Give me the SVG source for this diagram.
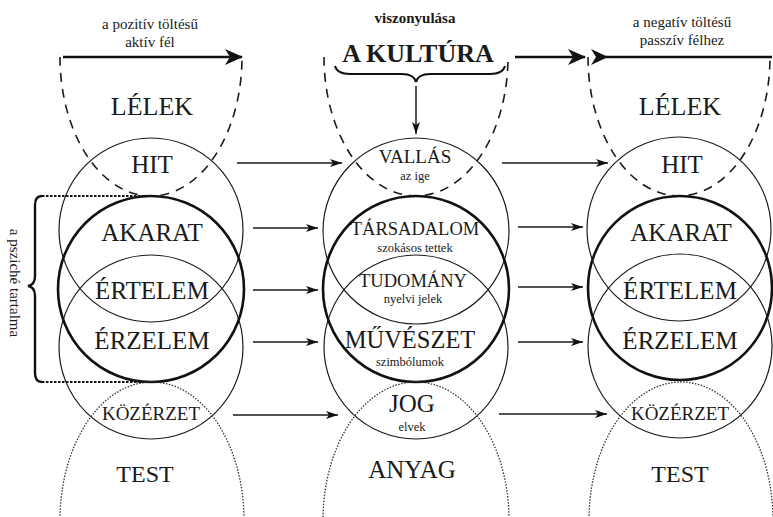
<svg xmlns="http://www.w3.org/2000/svg" width="773" height="517" viewBox="0 0 773 517">
  <style>
    text { font-family: "Liberation Serif", "Times New Roman", serif; fill: #1a1a1a; text-anchor: middle; }
    .big { font-size: 25px; }
    .mid { font-size: 18.5px; }
    .sm { font-size: 12.5px; }
    .cap { font-size: 15px; }
    .thin { fill: none; stroke: #1a1a1a; stroke-width: 1.2; }
    .thick { fill: none; stroke: #111; stroke-width: 2.6; }
    .dash { fill: none; stroke: #1a1a1a; stroke-width: 1.6; stroke-dasharray: 9 7; }
    .dot { fill: none; stroke: #333; stroke-width: 1.3; stroke-dasharray: 1.5 1.5; }
    .conn { fill: none; stroke: #1a1a1a; stroke-width: 1.5; }
    .heavy { fill: none; stroke: #111; stroke-width: 2.6; }
    .bracket { fill: none; stroke: #111; stroke-width: 2.2; stroke-dasharray: 2.5 1.5; }
  </style>
  <defs>
    <marker id="arr" viewBox="0 0 12 8" refX="12" refY="4" markerWidth="12" markerHeight="8" markerUnits="userSpaceOnUse" orient="auto">
      <path d="M0,0 L12,4 L0,8 L3,4 z" fill="#111"/>
    </marker>
    <marker id="arrBig" viewBox="0 0 18 16" refX="17" refY="8" markerWidth="18" markerHeight="16" markerUnits="userSpaceOnUse" orient="auto">
      <path d="M0,0 L18,8 L0,16 L5,8 z" fill="#111"/>
    </marker>
  </defs>

  <rect width="773" height="517" fill="#ffffff"/>

  <!-- left column: the positive, active side -->
  <g id="col-left">
    <path class="dash" d="M60,57 A91,139 0 0 0 242,57"/>
    <circle class="thin" cx="151" cy="230" r="92"/>
    <circle class="thick" cx="151" cy="289" r="93"/>
    <circle class="thin" cx="151" cy="347" r="92"/>
    <ellipse class="dot" cx="152" cy="520" rx="92" ry="138"/>
  </g>
  <g id="left-lelek"><text class="big" x="152" y="115" style="font-size:26px">LÉLEK</text></g>
  <g id="left-hit"><text class="big" x="152" y="173">HIT</text></g>
  <g id="left-akarat"><text class="big" x="152" y="241">AKARAT</text></g>
  <g id="left-ertelem"><text class="big" x="152" y="299">ÉRTELEM</text></g>
  <g id="left-erzelem"><text class="big" x="152" y="349">ÉRZELEM</text></g>
  <g id="left-kozerzet"><text class="big" x="151" y="420" style="font-size:19px">KÖZÉRZET</text></g>
  <g id="left-test"><text class="big" x="145" y="482" style="font-size:24px">TEST</text></g>

  <!-- middle column: culture -->
  <g id="col-middle">
    <path class="dash" d="M324,57 A92,139 0 0 0 508,57"/>
    <circle class="thin" cx="416" cy="231" r="93"/>
    <circle class="thick" cx="416" cy="289" r="93"/>
    <circle class="thin" cx="416" cy="347" r="92"/>
    <ellipse class="dot" cx="416" cy="520" rx="93" ry="138"/>
  </g>
  <g id="mid-vallas">
    <text class="mid" x="415" y="163" style="font-size:19px">VALLÁS</text>
    <text class="sm" x="415" y="180">az ige</text>
  </g>
  <g id="mid-tarsadalom">
    <text class="mid" x="415" y="235">TÁRSADALOM</text>
    <text class="sm" x="415" y="252">szokásos tettek</text>
  </g>
  <g id="mid-tudomany">
    <text class="mid" x="413" y="287">TUDOMÁNY</text>
    <text class="sm" x="413" y="303">nyelvi jelek</text>
  </g>
  <g id="mid-muveszet">
    <text class="big" x="410" y="348" style="font-size:24.5px">MŰVÉSZET</text>
    <text class="sm" x="410" y="366">szimbólumok</text>
  </g>
  <g id="mid-jog">
    <text class="big" x="412" y="412">JOG</text>
    <text class="sm" x="412" y="431">elvek</text>
  </g>
  <g id="mid-anyag"><text class="big" x="412" y="478">ANYAG</text></g>

  <!-- right column: the negative, passive side -->
  <g id="col-right">
    <path class="dash" d="M588,57 A91,139 0 0 0 770,57"/>
    <circle class="thin" cx="679" cy="229" r="92"/>
    <circle class="thick" cx="680" cy="288" r="92"/>
    <circle class="thin" cx="680" cy="346" r="92"/>
    <ellipse class="dot" cx="681" cy="520" rx="92" ry="138"/>
  </g>
  <g id="right-lelek"><text class="big" x="680" y="115" style="font-size:26px">LÉLEK</text></g>
  <g id="right-hit"><text class="big" x="682" y="173">HIT</text></g>
  <g id="right-akarat"><text class="big" x="681" y="241">AKARAT</text></g>
  <g id="right-ertelem"><text class="big" x="680" y="299">ÉRTELEM</text></g>
  <g id="right-erzelem"><text class="big" x="680" y="349">ÉRZELEM</text></g>
  <g id="right-kozerzet"><text class="big" x="680" y="420" style="font-size:19px">KÖZÉRZET</text></g>
  <g id="right-test"><text class="big" x="680" y="482" style="font-size:24px">TEST</text></g>

  <!-- headings -->
  <g id="head-left">
    <text class="cap" x="150" y="29">a pozitív töltésű</text>
    <text class="cap" x="150" y="47">aktív fél</text>
  </g>
  <g id="head-middle">
    <text x="415" y="23" style="font-size:15px;font-weight:bold">viszonyulása</text>
    <text x="418" y="62" style="font-size:26px;font-weight:bold">A KULTÚRA</text>
  </g>
  <g id="head-right">
    <text class="cap" x="682" y="27">a negatív töltésű</text>
    <text class="cap" x="682" y="45">passzív félhez</text>
  </g>

  <!-- side bracket: contents of the psyche -->
  <g id="psyche">
    <path class="bracket" d="M42,196 H146"/>
    <path class="bracket" d="M42,382 H146"/>
    <path class="heavy" d="M42,196 Q35,196 35,205 L35,276 Q35,285 28,286 Q35,287 35,296 L35,373 Q35,382 42,382" style="stroke-width:2.4"/>
    <text class="cap" transform="translate(10,283) rotate(90)">a psziché tartalma</text>
  </g>

  <!-- connectors -->
  <g id="connectors">
    <line class="heavy" x1="63" y1="57" x2="242" y2="57" marker-end="url(#arrBig)"/>
    <line class="heavy" x1="515" y1="57" x2="585" y2="57" marker-end="url(#arrBig)"/>
    <line class="heavy" x1="598" y1="57" x2="772" y2="57"/>
    <path d="M591,49 L608,57 L591,65 L596,57 z" fill="#111"/>
    <path d="M335,66 Q337,74 350,74 L402,74 Q414,74 416,82 Q418,74 430,74 L490,74 Q503,74 505,66" fill="none" stroke="#111" stroke-width="2"/>
    <line class="conn" x1="416" y1="86" x2="416" y2="134" marker-end="url(#arr)"/>

    <line class="conn" x1="237" y1="163" x2="342" y2="163" marker-end="url(#arr)"/>
    <line class="conn" x1="253" y1="228" x2="318" y2="228" marker-end="url(#arr)"/>
    <line class="conn" x1="253" y1="290" x2="318" y2="290" marker-end="url(#arr)"/>
    <line class="conn" x1="253" y1="342" x2="318" y2="342" marker-end="url(#arr)"/>
    <line class="conn" x1="233" y1="415" x2="338" y2="415" marker-end="url(#arr)"/>

    <line class="conn" x1="502" y1="163" x2="608" y2="163" marker-end="url(#arr)"/>
    <line class="conn" x1="518" y1="227" x2="583" y2="227" marker-end="url(#arr)"/>
    <line class="conn" x1="518" y1="287" x2="583" y2="287" marker-end="url(#arr)"/>
    <line class="conn" x1="518" y1="342" x2="583" y2="342" marker-end="url(#arr)"/>
    <line class="conn" x1="499" y1="414" x2="607" y2="414" marker-end="url(#arr)"/>
  </g>
</svg>
